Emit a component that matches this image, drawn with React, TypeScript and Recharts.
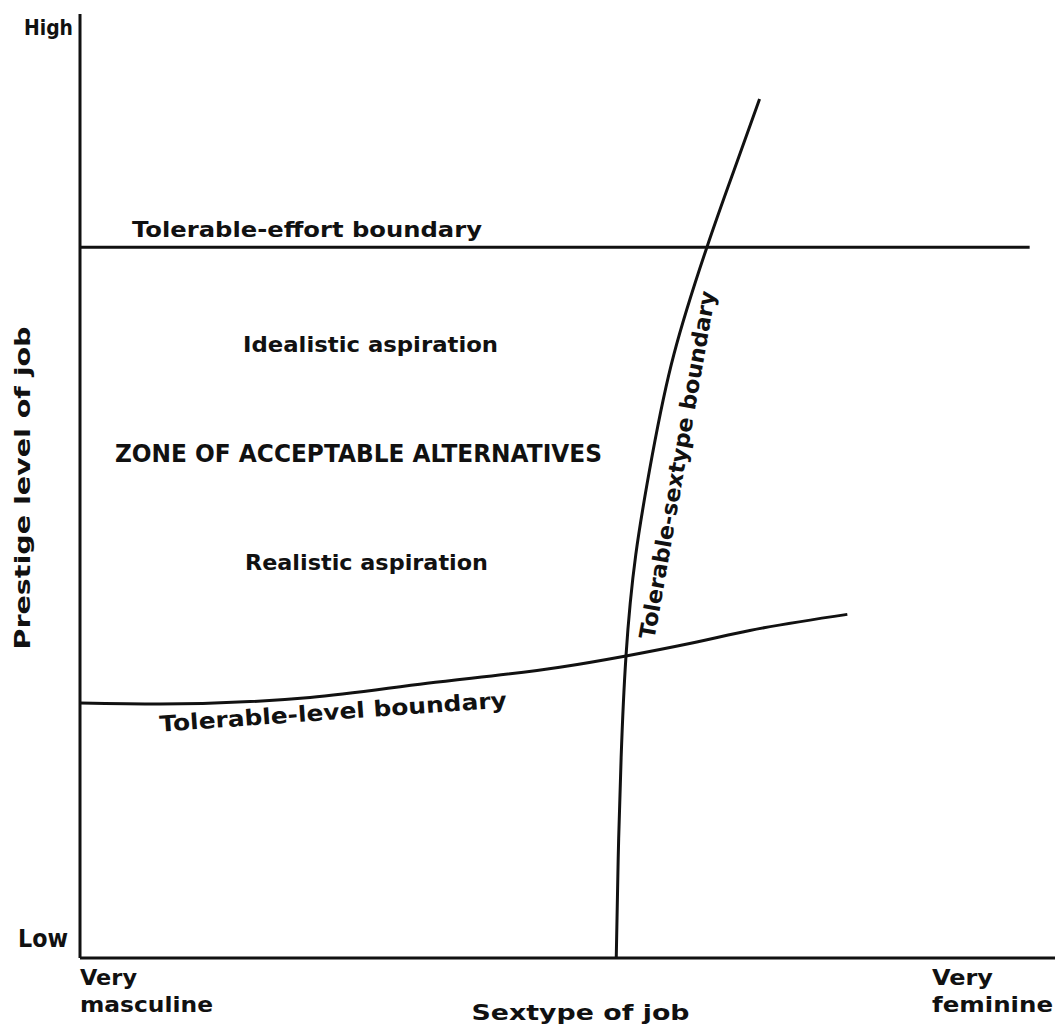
import { LineChart, Line, XAxis, YAxis, ReferenceDot, Label } from 'recharts';

// curve values (x: sextype 0-100, y: prestige 0-100)
const effortX = [0, 97.4];
const effortY = [75.3, 75.3];

const levelX = [0, 8.2, 23.6, 35.6, 49.2, 56.0, 62.9, 68.7, 78.7];
const levelY = [27.0, 26.9, 27.6, 29.1, 30.8, 32.0, 33.4, 34.7, 36.4];

const sextypeX = [55.0, 55.2, 55.5, 56.0, 57.0, 58.7, 60.9, 64.3, 67.1, 69.7];
const sextypeY = [0, 10.6, 21.2, 32.0, 42.7, 53.3, 63.9, 75.3, 83.5, 91.0];

const yTickLabels: Record<number, string> = { 0: 'Low', 100: 'High' };
const xTickLabels: Record<number, string[]> = {
  0: ['Very', 'masculine'],
  100: ['Very', 'feminine'],
};

const toPoints = (xs: number[], ys: number[]) => xs.map((x, i) => ({ x, y: ys[i] }));

const effort = toPoints(effortX, effortY);
const level = toPoints(levelX, levelY);
const sextype = toPoints(sextypeX, sextypeY);

const FONT = '"DejaVu Sans", sans-serif';
const INK = '#111';

const textStyle = {
  fontFamily: FONT,
  fontWeight: 'bold' as const,
  fill: INK,
};

function YTick(props: any) {
  const { x, y, payload } = props;
  const isTop = payload.value === 100;
  return (
    <text
      x={isTop ? x - 7 : x - 12}
      y={isTop ? y + 21 : y - 11}
      textAnchor="end"
      fontSize={isTop ? 22 : 24}
      textLength={isTop ? 49 : 50}
      lengthAdjust="spacingAndGlyphs"
      {...textStyle}
    >
      {yTickLabels[payload.value]}
    </text>
  );
}

function XTick(props: any) {
  const { x, y, payload } = props;
  const lines = xTickLabels[payload.value] || [];
  const left = payload.value === 0 ? x : x - 123;
  return (
    <g>
      <text x={left} y={y + 27} fontSize={22} {...textStyle} textLength={payload.value === 0 ? 57 : 61} lengthAdjust="spacingAndGlyphs">
        {lines[0]}
      </text>
      <text x={left} y={y + 54} fontSize={22} {...textStyle} textLength={payload.value === 0 ? 133 : 121} lengthAdjust="spacingAndGlyphs">
        {lines[1]}
      </text>
    </g>
  );
}

function Note(props: any) {
  const { viewBox, text, rot = 0, length, size = 22 } = props;
  const x = viewBox.x + (viewBox.width || 0) / 2;
  const y = viewBox.y + (viewBox.height || 0) / 2;
  return (
    <g transform={`rotate(${rot}, ${x}, ${y})`}>
      <text
        x={x}
        y={y}
        textAnchor="middle"
        fontSize={size}
        textLength={length}
        lengthAdjust="spacingAndGlyphs"
        {...textStyle}
      >
        {text}
      </text>
    </g>
  );
}

function XTitle(props: any) {
  const { viewBox } = props;
  return (
    <text
      x={viewBox.x + viewBox.width / 2 + 13}
      y={viewBox.y + 62}
      textAnchor="middle"
      fontSize={22}
      textLength={218}
      lengthAdjust="spacingAndGlyphs"
      {...textStyle}
    >
      Sextype of job
    </text>
  );
}

function YTitle(props: any) {
  const { viewBox } = props;
  const x = 30;
  const y = viewBox.y + viewBox.height / 2 + 2;
  return (
    <g transform={`rotate(-90, ${x}, ${y})`}>
      <text
        x={x}
        y={y}
        textAnchor="middle"
        fontSize={22}
        textLength={323}
        lengthAdjust="spacingAndGlyphs"
        {...textStyle}
      >
        Prestige level of job
      </text>
    </g>
  );
}

export default function App() {
  return (
    <div style={{ position: 'absolute', left: 0, top: 0, width: 1059, height: 1030, background: '#fff' }}>
      <LineChart width={1059} height={1030} margin={{ top: 14, right: 4, bottom: 32, left: 20 }}>
        <XAxis
          type="number"
          dataKey="x"
          domain={[0, 100]}
          ticks={[0, 100]}
          interval={0}
          allowDataOverflow
          height={40}
          tickSize={0}
          tickMargin={0}
          tickLine={false}
          axisLine={{ stroke: INK, strokeWidth: 3 }}
          tick={<XTick />}
        >
          <Label content={<XTitle />} />
        </XAxis>
        <YAxis
          type="number"
          dataKey="y"
          domain={[0, 100]}
          ticks={[0, 100]}
          interval={0}
          allowDataOverflow
          width={60}
          tickSize={0}
          tickMargin={0}
          tickLine={false}
          axisLine={{ stroke: INK, strokeWidth: 3 }}
          tick={<YTick />}
        >
          <Label content={<YTitle />} />
        </YAxis>

        <Line data={effort} dataKey="y" type="linear" stroke={INK} strokeWidth={3} dot={false} isAnimationActive={false} />
        <Line data={level} dataKey="y" type="monotoneX" stroke={INK} strokeWidth={3} dot={false} isAnimationActive={false} />
        <Line data={sextype} dataKey="y" type="natural" stroke={INK} strokeWidth={3} dot={false} isAnimationActive={false} />

        <ReferenceDot x={23.28} y={76.38} r={0} stroke="none" fill="none" label={<Note text="Tolerable-effort boundary" length={350} />} />
        <ReferenceDot x={29.8} y={64.19} r={0} stroke="none" fill="none" label={<Note text="Idealistic aspiration" length={255} />} />
        <ReferenceDot x={28.56} y={52.54} r={0} stroke="none" fill="none" label={<Note text="ZONE OF ACCEPTABLE ALTERNATIVES" length={487} size={24} />} />
        <ReferenceDot x={29.38} y={41.1} r={0} stroke="none" fill="none" label={<Note text="Realistic aspiration" length={243} />} />
        <ReferenceDot x={26.0} y={25.26} r={0} stroke="none" fill="none" label={<Note text="Tolerable-level boundary" length={348} rot={-4} />} />
        <ReferenceDot x={62.05} y={52.1} r={0} stroke="none" fill="none" label={<Note text="Tolerable-sextype boundary" length={353} rot={-80} />} />
      </LineChart>
    </div>
  );
}
